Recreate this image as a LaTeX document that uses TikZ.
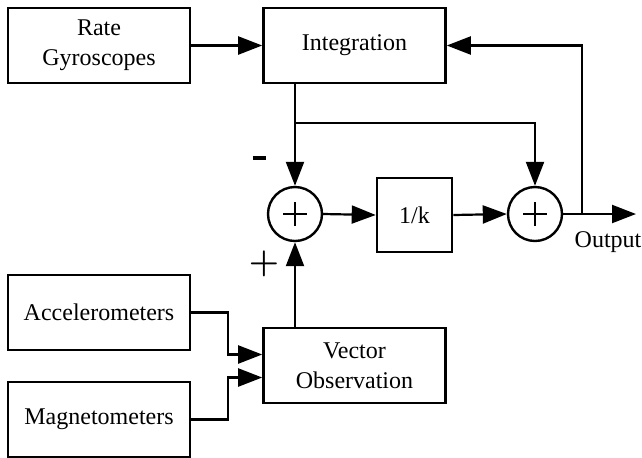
\documentclass[tikz,border=0pt]{standalone}
\usepackage{fontspec}
\setmainfont{Liberation Serif}
\usepackage{amsmath}
\usepackage{amssymb}
\usetikzlibrary{
  arrows.meta,
  calc,
  positioning,
  shapes}

\begin{document}
\begin{tikzpicture}[x=0.5pt,y=-0.5pt,
    blk/.style={draw,line width=1.3pt,minimum width=91pt,minimum height=37.5pt,align=center,font=\fontsize{12}{15}\selectfont},
    sumnode/.style={draw,circle,line width=1.2pt,minimum size=27pt,inner sep=0pt,
      path picture={
        \draw[line width=1.1pt] ($(path picture bounding box.center)+(-6pt,0)$)--++(12pt,0);
        \draw[line width=1.1pt] ($(path picture bounding box.center)+(0,-6pt)$)--++(0,12pt);}},
    sign/.style={font=\fontsize{16}{16}\selectfont},
    wire/.style={line width=1.1pt,-{Triangle[length=12pt,width=9pt]}},
    plainwire/.style={line width=1.1pt}]
            \useasboundingbox (0,0) rectangle (642,457);
            \node[blk] (gyro) at (99,45.5) {Rate\\Gyroscopes};
            \node[blk] (integ) at (354.5,45.5) {Integration};
            \node[sumnode] (sumL) at (295,214) {};
            \node[blk,minimum width=37.5pt,minimum height=37pt] (invk) at (414.5,215) {1/k};
            \node[sumnode] (sumR) at (535,214) {};
            \node[blk] (accel) at (99,312.5) {Accelerometers};
            \node[blk] (vecobs) at (354.5,365.5) {Vector\\Observation};
            \node[blk] (magn) at (99,419.5) {Magnetometers};
            \node[font=\fontsize{12}{15}\selectfont] (outlbl) at (608,242) {Output};
            \node[inner sep=0pt] (minus) at (259,158) {\rule{6.5pt}{1.6pt}};
            \node[sign] (plus) at (264,264) {$\boldsymbol{+}$};

            \coordinate (split) at (295,123);
            \coordinate (fb) at (582,214);
            \coordinate (outend) at (636,214);
            \coordinate (inA) at ($(vecobs.west)+(0,-11)$);
            \coordinate (inM) at ($(vecobs.west)+(0,12)$);

            \draw[wire] (gyro.east)--(integ.west);
            \draw[wire] (integ.south -| sumL.north)--(sumL.north);
            \draw[wire] (split) -| (sumR.north);
            \draw[wire] (sumL.east)--(invk.west);
            \draw[wire] (invk.east)--(sumR.west);
            \draw[wire] (sumR.east)--(outend);
            \draw[wire] (fb) |- (integ.east);
            \draw[wire] (vecobs.north -| sumL.south)--(sumL.south);
            \draw[wire] (accel.east)--++(37,0) |- (inA);
            \draw[wire] (magn.east)--++(37,0) |- (inM);
        \end{tikzpicture}
\end{document}
